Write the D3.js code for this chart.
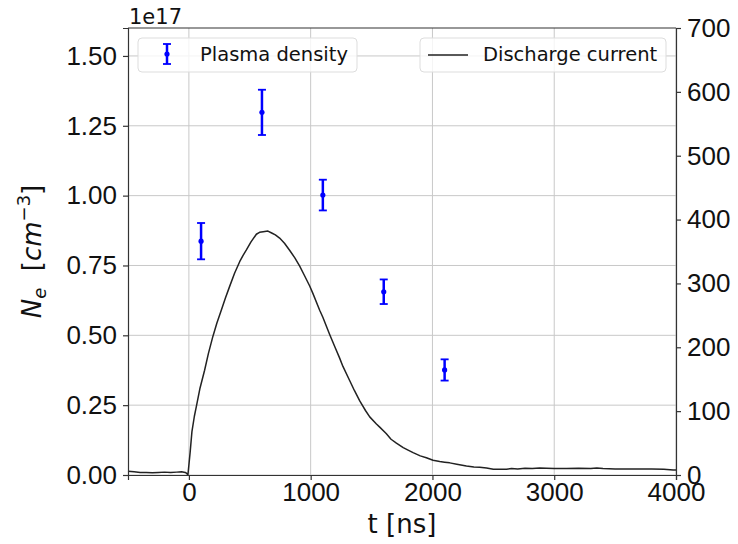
<!DOCTYPE html>
<html>
<head>
<meta charset="UTF-8">
<script src="https://d3js.org/d3.v7.min.js"></script>
<style>
  body { margin: 0; background: #fff; }
  svg { font-family: "DejaVu Sans", sans-serif; }
  .axis text { font-size: 26px; fill: #111; }
  .axis path, .axis line { stroke: #333; stroke-width: 1.2px; }
  .grid line { stroke: #c8c8c8; stroke-width: 1px; }
  .legend text { font-size: 19.5px; fill: #111; }
</style>
</head>
<body>
<svg id="chart" width="738" height="544"></svg>
<script>
// plasma density (units of 1e17 cm^-3)
const densityT = [100, 600, 1100, 1600, 2100];
const densityVal = [0.837, 1.298, 1.002, 0.656, 0.376];
const densityErr = [0.065, 0.081, 0.055, 0.044, 0.038];

// discharge current trace
const currentT = [-500, -450, -400, -350, -300, -250, -200, -150, -100, -60, -30, -15, -8,
  10, 25, 45, 61, 90, 129, 160, 197, 230, 266, 300, 334, 375, 417, 445, 471, 510, 554, 580, 610, 649,
  680, 710, 745, 785, 827, 870, 910, 950, 992, 1019, 1074, 1100, 1156, 1200, 1238, 1265, 1320, 1360,
  1403, 1450, 1485, 1540, 1567, 1620, 1660, 1704, 1760, 1800, 1841, 1900, 1950, 2005, 2060, 2100,
  2142, 2200, 2279, 2340, 2388, 2444, 2500, 2553, 2608, 2650, 2700, 2760, 2820, 2880, 2937, 3000,
  3100, 3200, 3300, 3350, 3400, 3500, 3621, 3700, 3800, 3900, 3977, 4000];
const currentI = [6, 5, 4, 4, 3.5, 4, 4.5, 4, 4.5, 5, 4, 2, 0,
  35, 68, 92, 107, 135, 164, 190, 217, 238, 258, 277, 295, 316, 334, 344, 352, 365, 377, 380, 381, 382,
  379, 376, 371, 363, 352, 340, 327, 312, 296, 284, 258, 247, 220, 200, 183, 170, 148, 132,
  116, 101, 91, 80, 75, 65, 56, 50, 43, 39, 35, 30, 27, 23, 21, 20,
  19, 17, 14, 12.5, 12, 11, 9, 9, 9, 10, 9.5, 10.5, 10, 11, 10.5, 10,
  10, 10.5, 10, 11, 10, 9.5, 9.5, 9.5, 9.5, 9, 8, 8];

const xTicks = [0, 1000, 2000, 3000, 4000];
const leftTicks = [0, 0.25, 0.5, 0.75, 1.0, 1.25, 1.5];
const rightTicks = [0, 100, 200, 300, 400, 500, 600, 700];

const margin = { top: 28, right: 62, bottom: 69, left: 128 };
const W = 738, H = 544;
const w = W - margin.left - margin.right, h = H - margin.top - margin.bottom;

const svg = d3.select("#chart");
const g = svg.append("g").attr("transform", `translate(${margin.left},${margin.top})`);

const x = d3.scaleLinear().domain([-500, 4000]).range([0, w]);
const yL = d3.scaleLinear().domain([0, 1.6]).range([h, 0]);
const yR = d3.scaleLinear().domain([0, 700]).range([h, 0]);

// grid
const grid = g.append("g").attr("class", "grid");
grid.selectAll(".gx").data(xTicks).enter().append("line")
  .attr("x1", d => x(d)).attr("x2", d => x(d)).attr("y1", 0).attr("y2", h);
grid.selectAll(".gy").data(leftTicks).enter().append("line")
  .attr("x1", 0).attr("x2", w).attr("y1", d => yL(d)).attr("y2", d => yL(d));

// discharge current
const line = d3.line().x(d => x(d[0])).y(d => yR(d[1]));
g.append("path")
  .datum(d3.zip(currentT, currentI))
  .attr("d", line)
  .attr("fill", "none")
  .attr("stroke", "#222")
  .attr("stroke-width", 1.5)
  .attr("stroke-linejoin", "round");

// error bars
const pts = d3.zip(densityT, densityVal, densityErr);
const eb = g.append("g").attr("stroke", "#0000ff").attr("fill", "#0000ff");
eb.selectAll(".v").data(pts).enter().append("line")
  .attr("x1", d => x(d[0])).attr("x2", d => x(d[0]))
  .attr("y1", d => yL(d[1] - d[2])).attr("y2", d => yL(d[1] + d[2]))
  .attr("stroke-width", 2.5);
[-1, 1].forEach(s => {
  eb.selectAll(".c" + s).data(pts).enter().append("line")
    .attr("x1", d => x(d[0]) - 4).attr("x2", d => x(d[0]) + 4)
    .attr("y1", d => yL(d[1] + s * d[2])).attr("y2", d => yL(d[1] + s * d[2]))
    .attr("stroke-width", 1.8);
});
eb.selectAll("circle").data(pts).enter().append("circle")
  .attr("cx", d => x(d[0])).attr("cy", d => yL(d[1])).attr("r", 2.6).attr("stroke", "none");

// axes
g.append("g").attr("class", "axis")
  .attr("transform", `translate(0,${h})`)
  .call(d3.axisBottom(x).tickValues(xTicks).tickSize(5).tickFormat(d3.format("d")));
g.append("g").attr("class", "axis")
  .call(d3.axisLeft(yL).tickValues(leftTicks).tickSize(5).tickPadding(6).tickFormat(d => d.toFixed(2)));
g.append("g").attr("class", "axis")
  .attr("transform", `translate(${w},0)`)
  .call(d3.axisRight(yR).tickValues(rightTicks).tickSize(5).tickPadding(6));
// top spine
g.append("line").attr("x1", 0).attr("x2", w).attr("y1", 0).attr("y2", 0)
  .attr("stroke", "#333").attr("stroke-width", 1.2);

// offset text
svg.append("text").attr("x", 129).attr("y", 24)
  .style("font-size", "21px").attr("fill", "#111").text("1e17");

// axis labels
svg.append("text").attr("x", margin.left + w / 2).attr("y", 533)
  .attr("text-anchor", "middle").style("font-size", "26px").attr("fill", "#111").text("t [ns]");

const yl = svg.append("text")
  .attr("transform", `translate(41,${margin.top + h / 2}) rotate(-90)`)
  .attr("text-anchor", "middle").style("font-size", "26px").attr("fill", "#111");
yl.append("tspan").style("font-style", "italic").text("N");
yl.append("tspan").style("font-style", "italic").style("font-size", "18px").attr("dy", 5).text("e");
yl.append("tspan").attr("dy", -5).text("\u00a0\u00a0[");
yl.append("tspan").style("font-style", "italic").text("cm");
yl.append("tspan").style("font-size", "18px").attr("dy", -11).text("\u22123");
yl.append("tspan").attr("dy", 11).text("]");

// legends
const leg = svg.append("g").attr("class", "legend");
const boxes = [
  { x: 138, w: 219, label: "Plasma density", kind: "err" },
  { x: 420, w: 246, label: "Discharge current", kind: "line" }
];
boxes.forEach(b => {
  const lg = leg.append("g").attr("transform", `translate(${b.x},38)`);
  lg.append("rect").attr("width", b.w).attr("height", 34).attr("rx", 4)
    .attr("fill", "#fff").attr("fill-opacity", 0.8).attr("stroke", "#ddd");
  if (b.kind === "err") {
    lg.append("line").attr("x1", 29).attr("x2", 29).attr("y1", 6).attr("y2", 26)
      .attr("stroke", "#0000ff").attr("stroke-width", 2.5);
    lg.append("line").attr("x1", 25).attr("x2", 33).attr("y1", 6).attr("y2", 6)
      .attr("stroke", "#0000ff").attr("stroke-width", 1.8);
    lg.append("line").attr("x1", 25).attr("x2", 33).attr("y1", 26).attr("y2", 26)
      .attr("stroke", "#0000ff").attr("stroke-width", 1.8);
    lg.append("circle").attr("cx", 29).attr("cy", 16).attr("r", 2.6).attr("fill", "#0000ff");
    lg.append("text").attr("x", 62).attr("y", 23).text(b.label);
  } else {
    lg.append("line").attr("x1", 8).attr("x2", 48).attr("y1", 17).attr("y2", 17)
      .attr("stroke", "#222").attr("stroke-width", 1.5);
    lg.append("text").attr("x", 63).attr("y", 23).text(b.label);
  }
});
</script>
</body>
</html>
